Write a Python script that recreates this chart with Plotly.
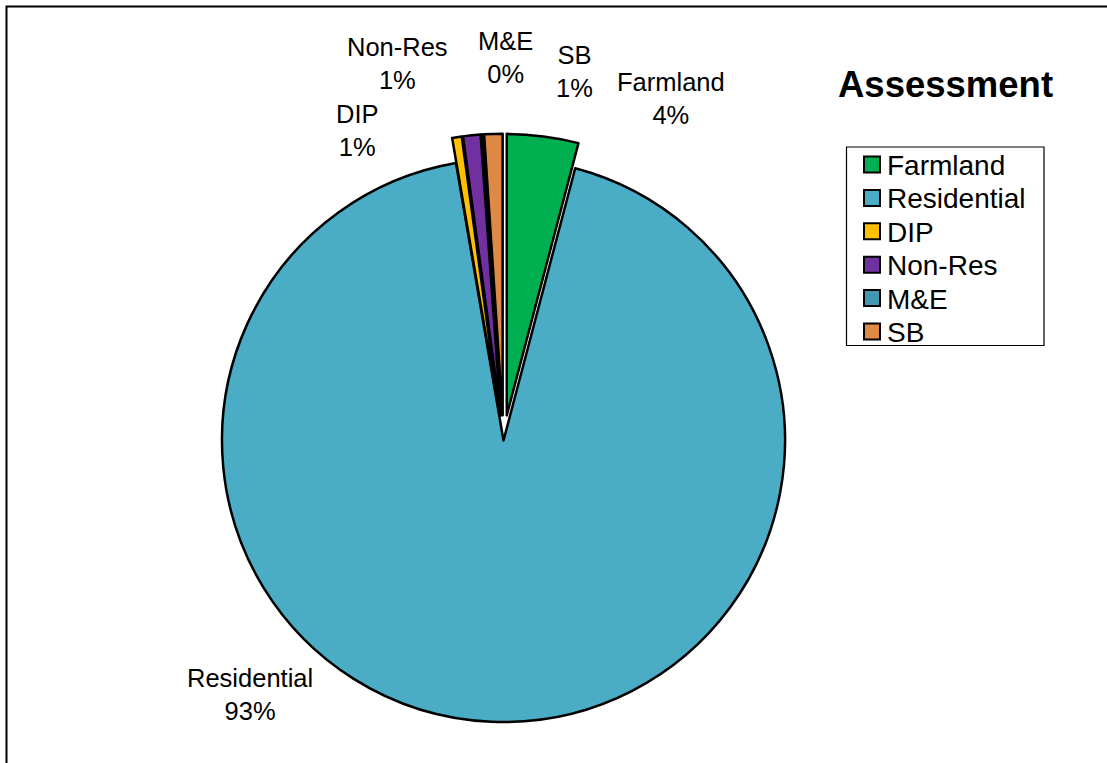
import plotly.graph_objects as go

# Assessment breakdown by category
categories = ["Farmland", "Residential", "DIP", "Non-Res", "M&E", "SB"]
values = [4.1, 93.2, 0.55, 1.0, 0.1, 1.05]
colors = ["#00B050", "#4BACC6", "#FFC000", "#7030A0", "#4298B0", "#DE8A45"]
pulls = [0.09, 0.0, 0.09, 0.09, 0.09, 0.09]

W, H = 1107, 763
FONT = "Liberation Sans, Arial, sans-serif"


def px(x):
    return x / W


def py(y):
    return 1 - y / H


total = sum(values)
percents = [int(v / total * 100 + 0.5) for v in values]

# Pie geometry (centre and radius in pixels, pull fraction)
cx, cy, r = 503.5, 440.5, 281.5
half = r * (1 + max(pulls))

fig = go.Figure(
    go.Pie(
        labels=categories,
        values=values,
        marker=dict(colors=colors, line=dict(color="black", width=2.5)),
        pull=pulls,
        sort=False,
        direction="clockwise",
        rotation=0,
        textinfo="none",
        showlegend=False,
        domain=dict(x=[px(cx - half), px(cx + half)],
                    y=[py(cy + half), py(cy - half)]),
    )
)

# Data labels outside the pie (category name over rounded percent)
label_pos = {
    "Farmland": (671, 98),
    "Residential": (250, 694),
    "DIP": (357, 130),
    "Non-Res": (397, 64),
    "M&E": (505, 57),
    "SB": (574, 72),
}
annotations = []
for name, pct in zip(categories, percents):
    x, y = label_pos[name]
    annotations.append(dict(
        x=px(x), y=py(y), xref="paper", yref="paper",
        text=f"{name}<br>{pct}%", showarrow=False,
        xanchor="center", yanchor="middle", align="center",
        font=dict(family=FONT, size=25.5, color="black"),
    ))

# Title
annotations.append(dict(
    x=px(945.5), y=py(84), xref="paper", yref="paper",
    text="<b>Assessment</b>", showarrow=False,
    xanchor="center", yanchor="middle",
    font=dict(family=FONT, size=36.5, color="black"),
))

shapes = [
    # chart area border
    dict(type="rect", xref="paper", yref="paper",
         x0=px(6.5), x1=1.2, y0=-0.2, y1=py(6.5),
         line=dict(color="black", width=2), fillcolor="rgba(0,0,0,0)"),
    # legend box
    dict(type="rect", xref="paper", yref="paper",
         x0=px(846.5), x1=px(1044), y0=py(345.5), y1=py(147),
         line=dict(color="black", width=1.2), fillcolor="white"),
]

# Legend entries
row0, pitch = 164.5, 33.4
for i, (name, col) in enumerate(zip(categories, colors)):
    yc = row0 + i * pitch
    shapes.append(dict(
        type="rect", xref="paper", yref="paper",
        x0=px(864), x1=px(880), y0=py(yc + 8), y1=py(yc - 8),
        line=dict(color="black", width=2), fillcolor=col,
    ))
    annotations.append(dict(
        x=px(885), y=py(yc + 1), xref="paper", yref="paper",
        text=name, showarrow=False, xanchor="left", yanchor="middle",
        font=dict(family=FONT, size=28, color="black"),
    ))

fig.update_layout(
    width=W, height=H,
    margin=dict(l=0, r=0, t=0, b=0),
    paper_bgcolor="white", plot_bgcolor="white",
    annotations=annotations,
    shapes=shapes,
)

fig.write_html("out.html")
